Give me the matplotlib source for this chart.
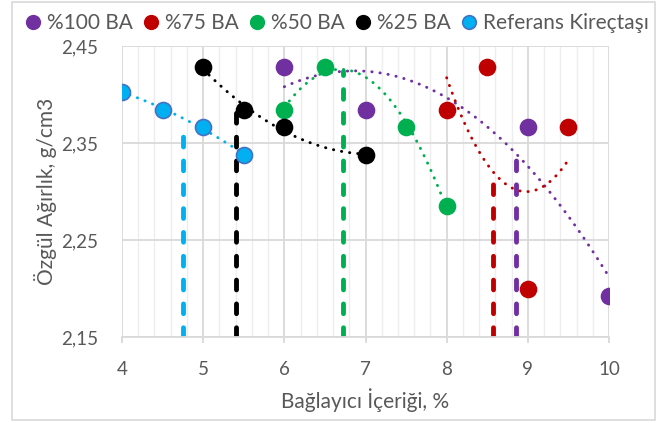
import numpy as np
import matplotlib.pyplot as plt
from matplotlib.ticker import MultipleLocator, FuncFormatter

plt.rcParams['font.family'] = ['Lato', 'DejaVu Sans']

# veri
labels = ['%100 BA', '%75 BA', '%50 BA', '%25 BA', 'Referans Kireçtaşı']
colors = ['#7030A0', '#C00000', '#00B050', '#000000', '#00B0F0']

x_100 = [6, 7, 9, 10]
y_100 = [2.428, 2.384, 2.366, 2.192]
x_75 = [8, 8.5, 9, 9.5]
y_75 = [2.384, 2.428, 2.200, 2.366]
x_50 = [6, 6.5, 7.5, 8]
y_50 = [2.384, 2.428, 2.366, 2.285]
x_25 = [5, 5.5, 6, 7]
y_25 = [2.428, 2.384, 2.366, 2.338]
x_ref = [4, 4.5, 5, 5.5]
y_ref = [2.403, 2.384, 2.366, 2.338]

# optimum bağlayıcı içerikleri (dikey kesikli çizgiler)
opt_x = [8.86, 8.57, 6.72, 5.41, 4.75]
opt_y = [2.339, 2.315, 2.424, 2.387, 2.366]

xs = [x_100, x_75, x_50, x_25, x_ref]
ys = [y_100, y_75, y_50, y_25, y_ref]

fig = plt.figure(figsize=(6.68, 4.23), dpi=100)
ax = fig.add_axes([122/668, 1-337/423, (609-122)/668, (337-46)/423])

for x, y, c, lab, ox, oy in zip(xs, ys, colors, labels, opt_x, opt_y):
    # polinom trend (2. derece)
    p = np.polyfit(x, y, 2)
    xx = np.linspace(min(x), max(x), 100)
    ax.plot(xx, np.polyval(p, xx), color=c, lw=2.1, ls=(0, (0.1, 2.7)),
            dash_capstyle='round', zorder=3)
    ax.plot([ox, ox], [2.15, oy], color=c, lw=3.5, ls=(0, (2.0, 2.9)),
            dash_capstyle='round', zorder=2)
    ec = '#4472C4' if c == '#00B0F0' else c
    ax.plot(x, y, 'o', color=c, mec=ec, mew=1.2, ms=11.5, label=lab, zorder=4)

ax.set_xlim(4, 10)
ax.set_ylim(2.15, 2.45)
ax.xaxis.set_major_locator(MultipleLocator(1))
ax.xaxis.set_minor_locator(MultipleLocator(0.2))
ax.yaxis.set_major_formatter(FuncFormatter(lambda v, p: f'{v:.2f}'.replace('.', ',')))
ax.set_yticks([2.15, 2.25, 2.35, 2.45])

ax.grid(which='major', color='#D9D9D9', lw=1.3, zorder=0)
ax.grid(which='minor', axis='x', color='#EDEDED', lw=1.0, zorder=0)
ax.set_axisbelow(True)
for s in ax.spines.values():
    s.set_visible(False)
ax.spines['bottom'].set_visible(True)
ax.spines['bottom'].set_color('#D9D9D9')
ax.spines['bottom'].set_linewidth(1.3)
ax.tick_params(axis='x', which='major', length=4.5, color='#D9D9D9', width=1.3,
               labelsize=13.5, labelcolor='#595959', pad=13)
ax.tick_params(axis='x', which='minor', length=0)
ax.tick_params(axis='y', length=0, labelsize=13.5, labelcolor='#595959', pad=17)

ax.set_xlabel('Bağlayıcı İçeriği, %', fontsize=15, color='#595959', labelpad=7)
ax.set_ylabel('Özgül Ağırlık, g/cm3', fontsize=15, color='#595959', labelpad=3)

fig.legend(loc='center', bbox_to_anchor=(0.505, 1 - 23/423), ncol=5, frameon=False,
           fontsize=15, handlelength=0.7, handletextpad=0.35, columnspacing=0.5,
           markerscale=0.85, labelcolor='#595959', borderpad=0)

fig.patches.append(plt.Rectangle((12/668, 3/423), 643/668, 418/423, transform=fig.transFigure,
                                 fill=False, ec='#D9D9D9', lw=1.2))

plt.savefig('out.png', dpi=100)
